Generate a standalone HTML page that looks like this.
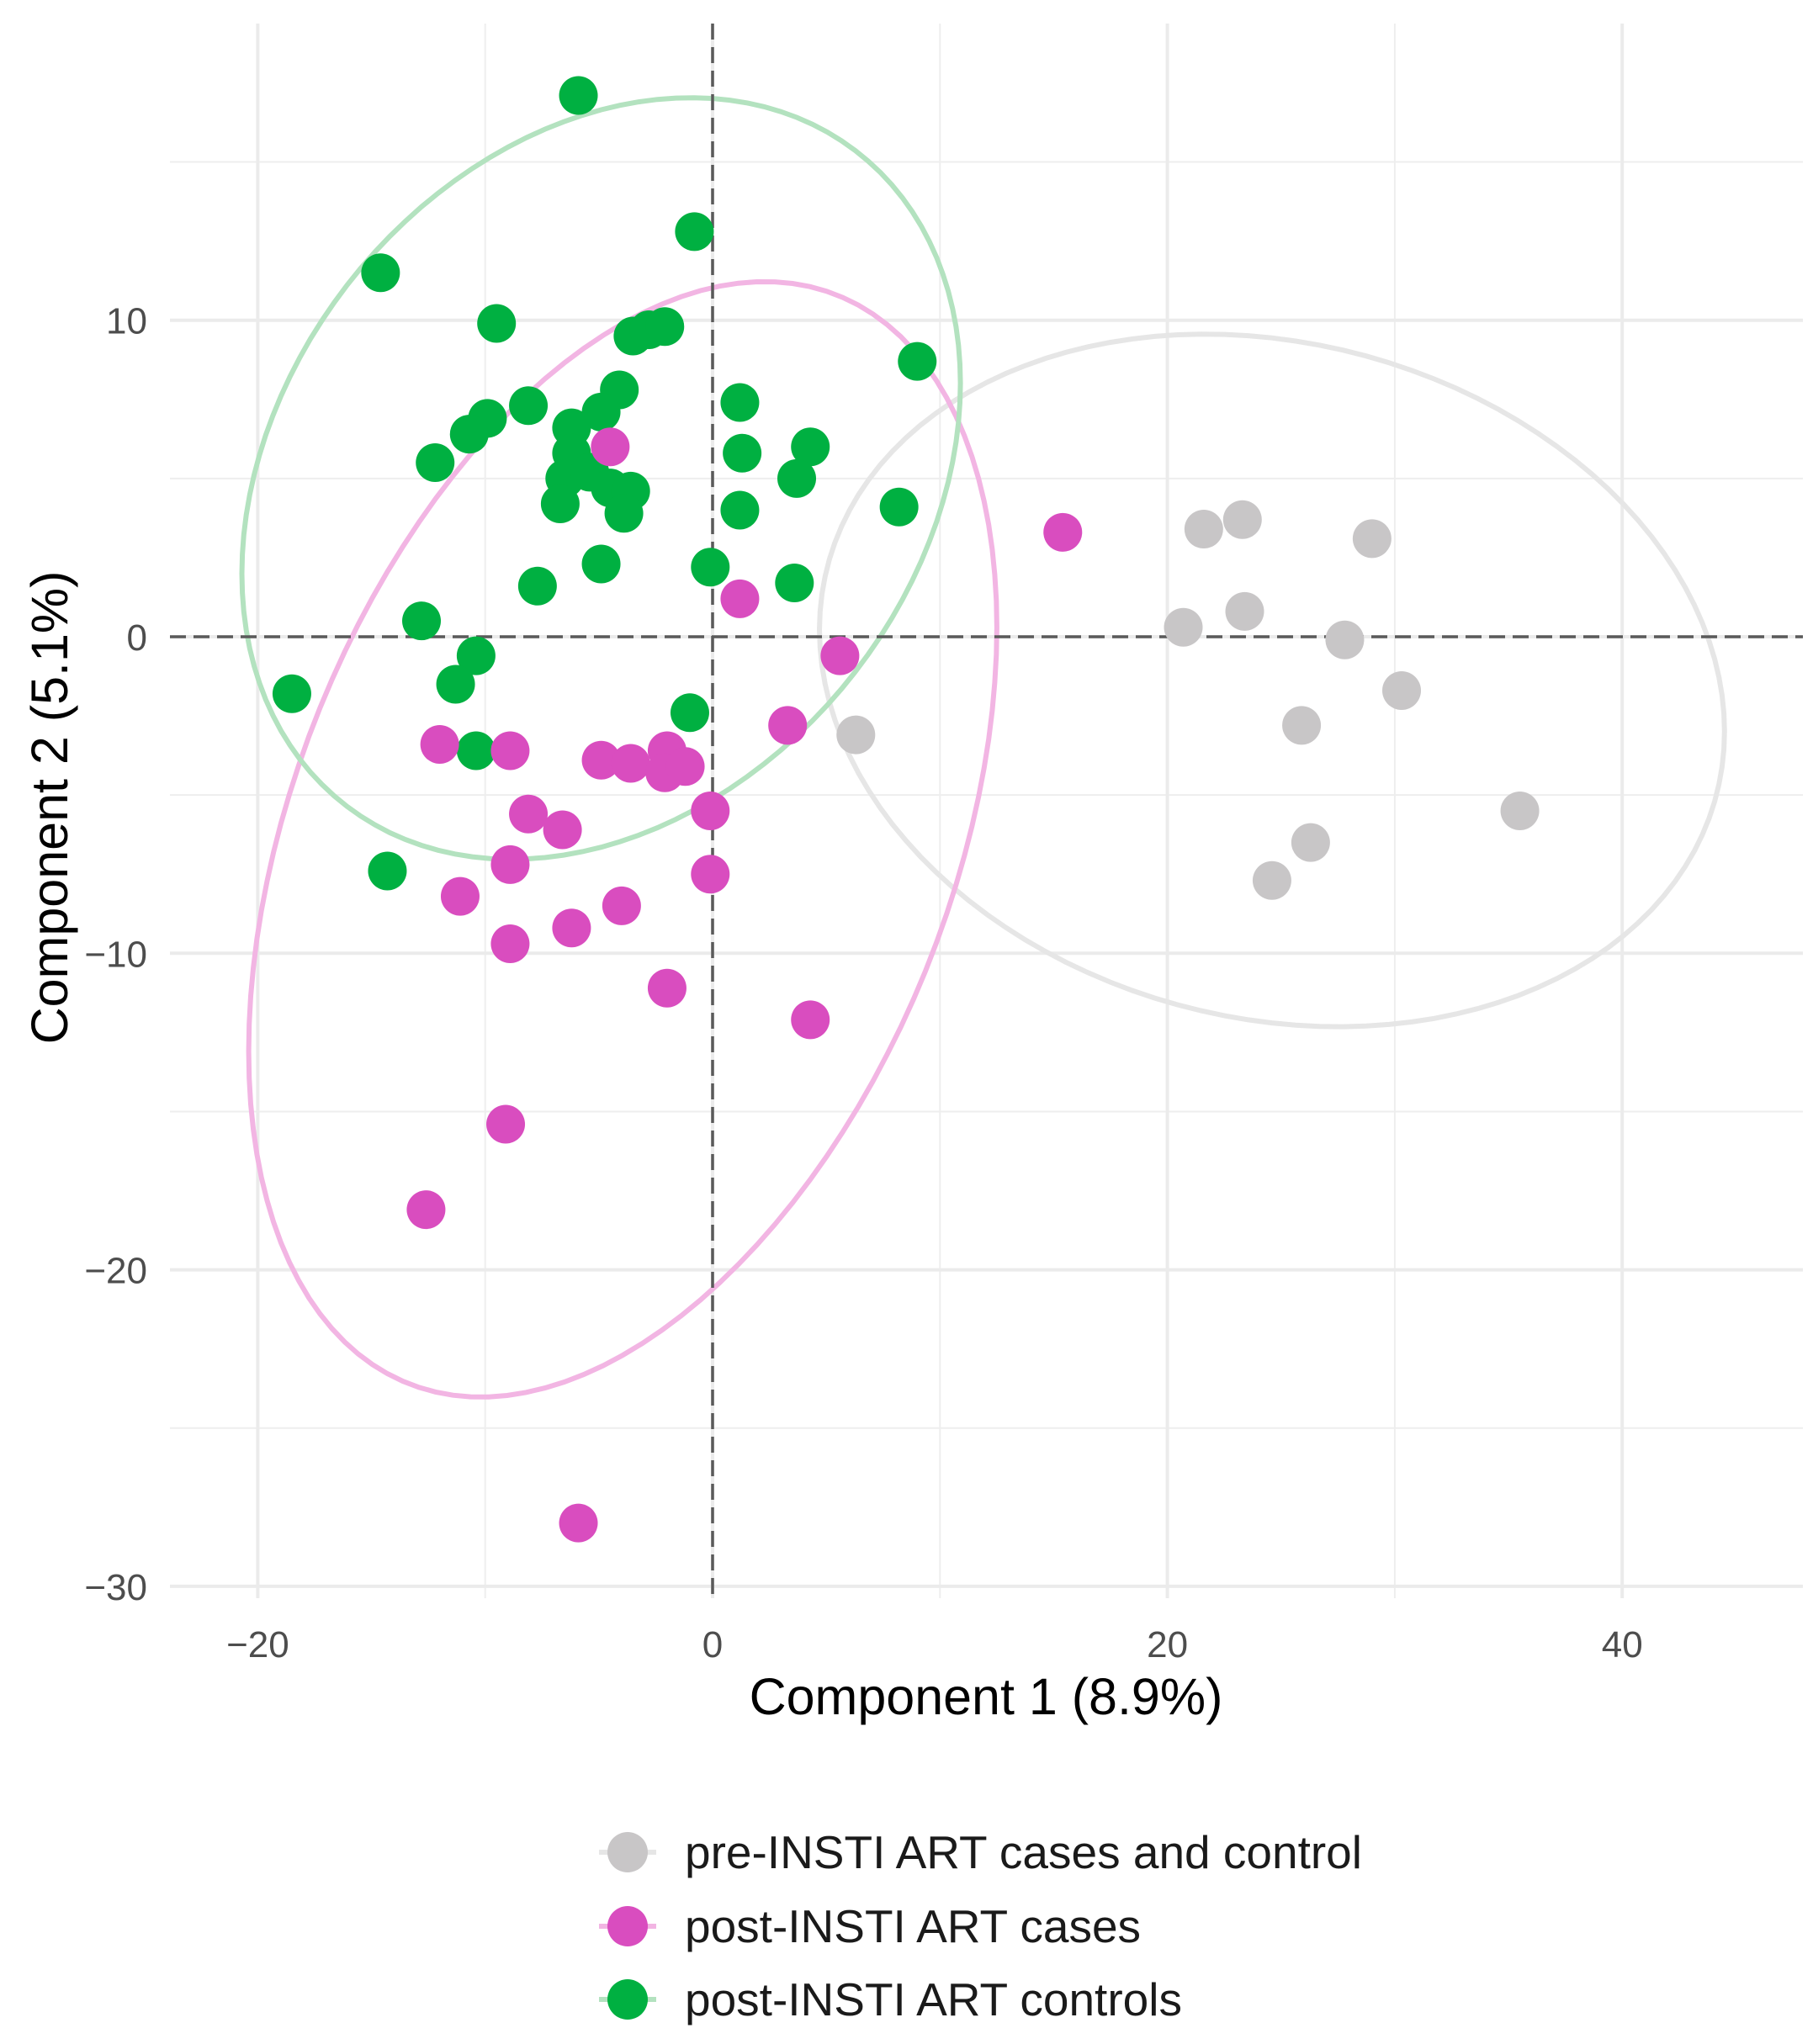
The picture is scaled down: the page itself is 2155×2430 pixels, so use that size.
<!DOCTYPE html>
<html><head><meta charset="utf-8"><style>
html,body{margin:0;padding:0;background:#fff;}
svg{display:block;font-family:"Liberation Sans",Arial,sans-serif;}
</style></head><body>
<svg id="chart" width="2155" height="2430" viewBox="0 0 2155 2430" xmlns="http://www.w3.org/2000/svg">
<g id="grid"></g>
<g id="ellipses"></g>
<g id="refs"></g>
<g id="points"></g>
<g id="axes"></g>
<text x="1172" y="2038" font-size="61" text-anchor="middle" fill="#000">Component 1 (8.9%)</text>
<text transform="translate(80,960) rotate(-90)" font-size="61" text-anchor="middle" fill="#000">Component 2 (5.1%)</text>
<g id="legend"></g>
</svg>
<script>
const xTicks=[-20,0,20,40];
const xMinor=[-10,10,30];
const yTicks=[-30,-20,-10,0,10];
const yMinor=[-25,-15,-5,5,15];
const groups=["pre-INSTI ART cases and control","post-INSTI ART cases","post-INSTI ART controls"];
const grayX=[21.6,23.3,29.0,20.7,23.4,27.8,30.3,25.9,6.3,35.5,26.3,24.6];
const grayY=[3.4,3.7,3.1,0.3,0.8,-0.1,-1.7,-2.8,-3.1,-5.5,-6.5,-7.7];
const pinkX=[15.4,-4.5,1.2,5.6,3.3,-12.0,-8.9,-4.9,-3.6,-2.0,-2.1,-1.2,-0.1,-8.1,-6.6,-8.9,-11.1,-0.1,-4.0,-6.2,-8.9,-2.0,4.3,-9.1,-12.6,-5.9];
const pinkY=[3.3,6.0,1.2,-0.6,-2.8,-3.4,-3.6,-3.9,-4.0,-3.6,-4.3,-4.1,-5.5,-5.6,-6.1,-7.2,-8.2,-7.5,-8.5,-9.2,-9.7,-11.1,-12.1,-15.4,-18.1,-28.0];
const greenX=[-5.9,-0.8,-14.6,-9.5,-3.5,-2.8,-2.1,9.0,-8.1,-4.1,-4.9,1.2,-9.9,-10.7,-12.2,-6.2,4.3,1.3,-6.2,-6.5,3.7,-5.4,-4.5,-3.6,-3.9,-6.7,1.2,8.2,-4.9,-0.1,-7.7,3.6,-12.8,-10.4,-11.3,-18.5,-1.0,-10.4,-14.3];
const greenY=[17.1,12.8,11.5,9.9,9.5,9.7,9.8,8.7,7.3,7.8,7.1,7.4,6.9,6.4,5.5,6.6,6.0,5.8,5.8,5.0,5.0,5.2,4.7,4.6,3.9,4.2,4.0,4.1,2.3,2.2,1.6,1.7,0.5,-0.6,-1.5,-1.8,-2.4,-3.6,-7.4];
// ellipse params: center x, center y, x half-range, y half-range, phase cosine
const grayEll=[24.6,-1.38,19.9,10.94,-0.147];
const pinkEll=[-3.95,-6.40,16.45,17.62,0.38];
const greenEll=[-4.9,5.0,15.8,12.03,0.25];

const X0=847, XS=27.03, Y0=757, YS=37.63;
const PL=202, PR=2143, PT=28, PB=1900;
const sx=v=>X0+v*XS, sy=v=>Y0-v*YS;
const NS="http://www.w3.org/2000/svg";
function mk(tag,attrs,parent){const e=document.createElementNS(NS,tag);for(const k in attrs)e.setAttribute(k,attrs[k]);parent.appendChild(e);return e;}
const grid=document.getElementById('grid');
xMinor.forEach(v=>{const l=mk('line',{x1:sx(v),x2:sx(v),y1:PT,y2:PB,stroke:'#eeeeee','stroke-width':2},grid);

});
yMinor.forEach(v=>{const l=mk('line',{x1:PL,x2:PR,y1:sy(v),y2:sy(v),stroke:'#eeeeee','stroke-width':2},grid);

});
xTicks.forEach(v=>{const l=mk('line',{x1:sx(v),x2:sx(v),y1:PT,y2:PB,stroke:'#ebebeb','stroke-width':4},grid);

});
yTicks.forEach(v=>{const l=mk('line',{x1:PL,x2:PR,y1:sy(v),y2:sy(v),stroke:'#ebebeb','stroke-width':4},grid);

});
const ell=document.getElementById('ellipses');
function drawEll(p,color,name){let d='';for(let i=0;i<=120;i++){const t=i/120*2*Math.PI;const phi=Math.acos(p[4]);
const x=p[0]+p[2]*Math.cos(t), y=p[1]+p[3]*Math.cos(t-phi);d+=(i?'L':'M')+sx(x).toFixed(1)+','+sy(y).toFixed(1);}
const e=mk('path',{d:d+'Z',fill:'none',stroke:color,'stroke-width':6},ell);

}
drawEll(grayEll,'#e6e6e6','ellipse-pre-insti');
drawEll(pinkEll,'#f2b5e3','ellipse-post-insti-cases');
drawEll(greenEll,'#b3e2bf','ellipse-post-insti-controls');
const refs=document.getElementById('refs');
const rv=mk('line',{x1:sx(0),x2:sx(0),y1:PT,y2:PB,stroke:'#5a5a5a','stroke-width':3.5,'stroke-dasharray':'19 9'},refs);


const rh=mk('line',{x1:PL,x2:PR,y1:sy(0),y2:sy(0),stroke:'#5a5a5a','stroke-width':3.5,'stroke-dasharray':'19 9'},refs);


const pts=document.getElementById('points');
function drawPts(xs,ys,color,name){xs.forEach((x,i)=>{const c=mk('circle',{cx:sx(x),cy:sy(ys[i]),r:23,fill:color},pts);

});}
drawPts(grayX,grayY,'#c8c6c7','point-pre-insti');
drawPts(greenX,greenY,'#00b041','point-post-insti-control');
drawPts(pinkX,pinkY,'#d94dbf','point-post-insti-case');
const ax=document.getElementById('axes');
xTicks.forEach(v=>{const t=mk('text',{x:sx(v),y:1970,'font-size':44,'text-anchor':'middle',fill:'#4d4d4d'},ax);t.textContent=String(v).replace('-','\u2212');

});
yTicks.forEach(v=>{const t=mk('text',{x:175,y:sy(v)+16,'font-size':44,'text-anchor':'end',fill:'#4d4d4d'},ax);t.textContent=String(v).replace('-','\u2212');

});
const lg=document.getElementById('legend');
const lcol=['#c8c6c7','#d94dbf','#00b041'], lline=['#e6e6e6','#f2b5e3','#b3e2bf'];
const ly=[2202,2290,2377];
groups.forEach((g,i)=>{
const l=mk('line',{x1:712,x2:780,y1:ly[i],y2:ly[i],stroke:lline[i],'stroke-width':6},lg);


const c=mk('circle',{cx:746,cy:ly[i],r:24,fill:lcol[i]},lg);


const t=mk('text',{x:814,y:ly[i]+19,'font-size':55,fill:'#1a1a1a'},lg);t.textContent=g;

});
</script>
</body></html>
